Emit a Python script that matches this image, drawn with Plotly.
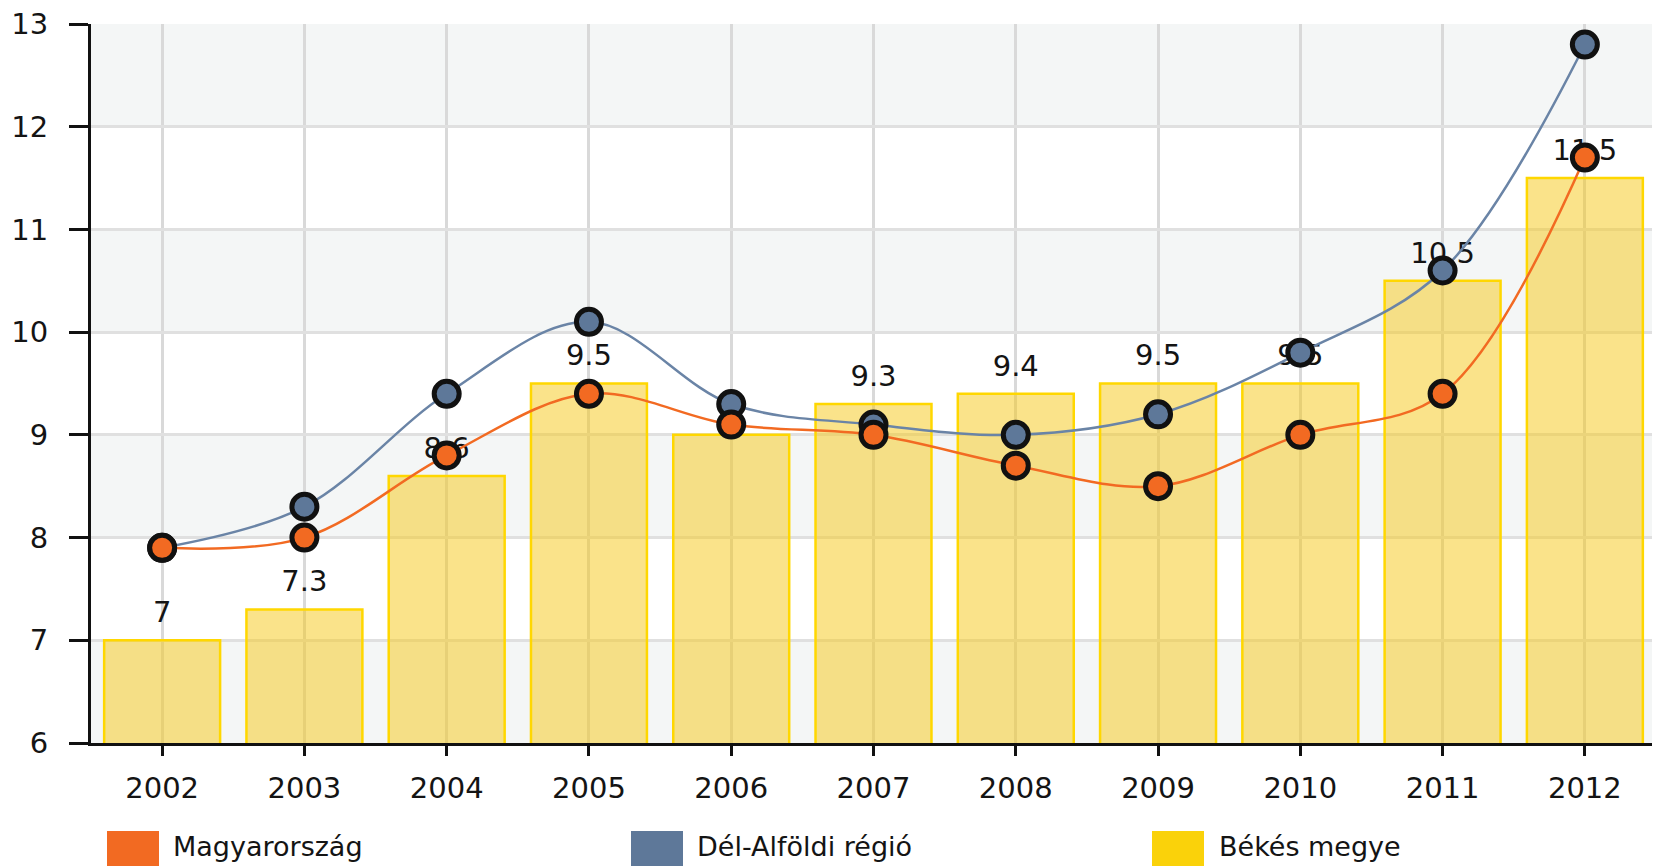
import plotly.graph_objects as go

years = ["2002", "2003", "2004", "2005", "2006", "2007", "2008", "2009", "2010", "2011", "2012"]
bekes = [7.0, 7.3, 8.6, 9.5, 9.0, 9.3, 9.4, 9.5, 9.5, 10.5, 11.5]
magyarorszag = [7.9, 8.0, 8.8, 9.4, 9.1, 9.0, 8.7, 8.5, 9.0, 9.4, 11.7]
del_alfold = [7.9, 8.3, 9.4, 10.1, 9.3, 9.1, 9.0, 9.2, 9.8, 10.6, 12.8]
y_ticks = [6, 7, 8, 9, 10, 11, 12, 13]
bar_labels = ["7", "7.3", "8.6", "9.5", "9", "9.3", "9.4", "9.5", "9.5", "10.5", "11.5"]

ORANGE = "#F26A22"
BLUE = "#5E7899"
BLUE_LINE = "#6A84A6"
YELLOW = "#FAD20A"
FONT = "DejaVu Sans"
TXT = "#141414"

OFF = 8  # default page body margin
W, H = 1660 - OFF, 866 - OFF
# plot area in page pixels: x 91..1656, y 24..743
L, R, T, B = 91 - OFF, 1660 - 1656, 24 - OFF, 866 - 743
PW = W - L - R
PH = H - T - B


def px(x):
    return (x - OFF - L) / PW


def py(y):
    return (H - B - (y - OFF)) / PH


fig = go.Figure()

fig.add_trace(go.Bar(
    x=years, y=bekes, name="Békés megye",
    marker=dict(color="rgba(245,200,22,0.5)", line=dict(color="#FFD700", width=2.5)),
    hoverinfo="skip", showlegend=False,
))

fig.add_trace(go.Scatter(
    x=years, y=bekes, mode="markers+text", text=bar_labels,
    textposition="top center",
    textfont=dict(family=FONT, size=29, color=TXT),
    marker=dict(size=16, opacity=0),
    hoverinfo="skip", showlegend=False, cliponaxis=False,
))

fig.add_trace(go.Scatter(
    x=years, y=del_alfold, name="Dél-Alföldi régió", mode="lines+markers",
    line=dict(color=BLUE_LINE, width=2.5, shape="spline", smoothing=1.0),
    marker=dict(size=25, color=BLUE, line=dict(color="#111111", width=5)),
    hoverinfo="skip", showlegend=False, cliponaxis=False,
))

fig.add_trace(go.Scatter(
    x=years, y=magyarorszag, name="Magyarország", mode="lines+markers",
    line=dict(color=ORANGE, width=2.5, shape="spline", smoothing=1.0),
    marker=dict(size=25, color=ORANGE, line=dict(color="#111111", width=5)),
    hoverinfo="skip", showlegend=False, cliponaxis=False,
))

shapes = []
for v in y_ticks[:-1]:
    if (v - y_ticks[0]) % 2 == 0:
        shapes.append(dict(type="rect", xref="paper", yref="y", x0=0, x1=1, y0=v, y1=v + 1,
                           fillcolor="#F4F6F6", line=dict(width=0), layer="below"))

legend_items = [("Magyarország", ORANGE, 107, 171), ("Dél-Alföldi régió", BLUE, 631, 695),
                ("Békés megye", YELLOW, 1152, 1217)]
annotations = []
for name, col, sx, tx in legend_items:
    shapes.append(dict(type="rect", xref="paper", yref="paper", x0=px(sx), x1=px(sx + 52),
                       y0=py(875), y1=py(831), fillcolor=col, line=dict(width=0), layer="above"))
    annotations.append(dict(text=name, xref="paper", yref="paper", x=px(tx), y=py(846),
                            xanchor="left", yanchor="middle", showarrow=False,
                            font=dict(family=FONT, size=27, color=TXT)))

fig.update_layout(
    width=W, height=H,
    margin=dict(l=L, r=R, t=T, b=B, pad=0, autoexpand=False),
    paper_bgcolor="white", plot_bgcolor="white",
    bargap=0.185,
    showlegend=False,
    shapes=shapes,
    annotations=annotations,
    font=dict(family=FONT, size=29, color=TXT),
)

fig.update_xaxes(
    type="category", range=[-0.5, 10.5], automargin=False,
    showgrid=True, gridcolor="#D9D9D9", gridwidth=2.5,
    showline=True, linecolor="#111111", linewidth=3,
    ticks="outside", ticklen=10, tickwidth=3, tickcolor="#111111",
    ticklabelstandoff=7, ticklabeloverflow="allow",
    tickfont=dict(family=FONT, size=29, color=TXT),
    zeroline=False, fixedrange=True,
)
fig.update_yaxes(
    range=[6, 13], tickvals=y_ticks, automargin=False,
    showgrid=True, gridcolor="#E0E0E0", gridwidth=2.5,
    showline=True, linecolor="#111111", linewidth=3,
    ticks="outside", ticklen=19, tickwidth=3, tickcolor="#111111",
    ticklabelstandoff=15, ticklabeloverflow="allow",
    tickfont=dict(family=FONT, size=29, color=TXT),
    zeroline=False, fixedrange=True,
)

fig.write_html("out.html", config={"displayModeBar": False})
